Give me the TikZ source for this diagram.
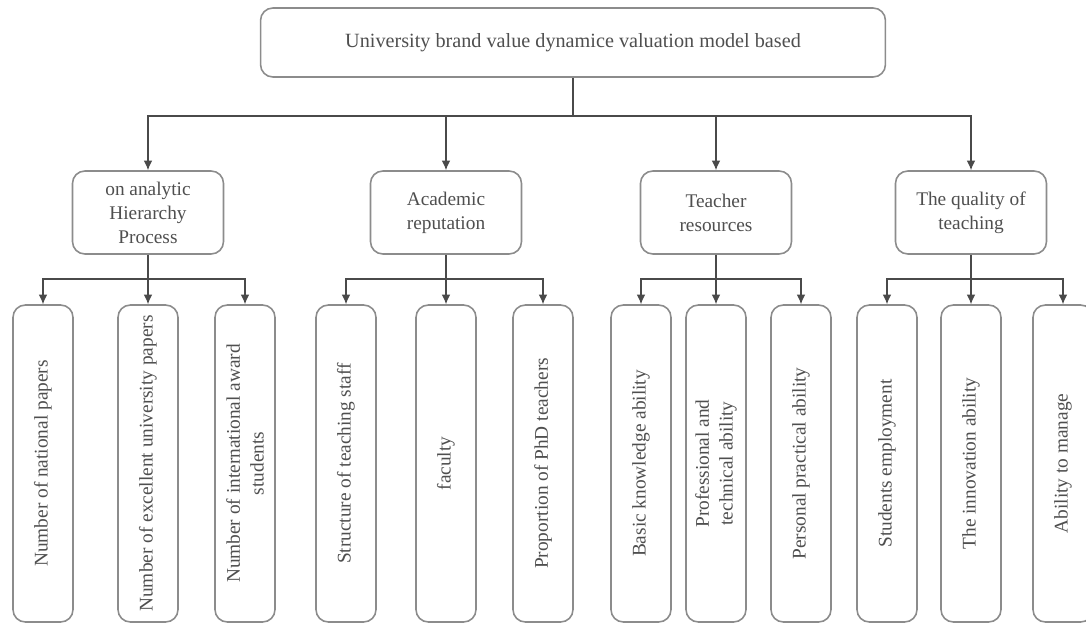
\documentclass[tikz,border=0pt]{standalone}
\usepackage{fontspec}
\setmainfont{Liberation Serif}
\usetikzlibrary{arrows.meta}
\definecolor{linegray}{HTML}{4A4A4A}
\definecolor{boxgray}{HTML}{8C8C8C}
\definecolor{txtgray}{HTML}{4F4F4F}
\def\busy{116}
\def\leafbus{279}

\begin{document}
\begin{tikzpicture}[x=0.02cm,y=-0.02cm]
    \tikzset{%
      box/.style={draw=boxgray, line width=0.9pt, rounded corners=7pt, fill=white,
        align=center, text=txtgray, inner sep=2pt, font=\fontsize{11}{13.6}\selectfont},
      modelbox/.style={box, minimum width=12.5cm, minimum height=1.38cm,
        font=\fontsize{11.5}{13.6}\selectfont},
      catbox/.style={box, minimum width=3.02cm, minimum height=1.66cm},
      leafbox/.style={box, rotate=90, minimum width=6.34cm, minimum height=1.2cm},
      link/.style={draw=linegray, line width=0.75pt},
      arrow/.style={link, -{Latex[length=5.5pt,width=5pt]}}}

    \useasboundingbox (0,0) rectangle (1086,626);

    \node[modelbox] (model) at (573,42.5) {University brand value dynamice valuation model based};
    \coordinate (bus) at (573,\busy);
    \draw[link] (model) -- (bus);

    \foreach \i/\x/\txt in {1/148/{on analytic\\Hierarchy\\Process},
                            2/446/{Academic\\reputation},
                            3/716/{Teacher\\resources},
                            4/971/{The quality of\\teaching}}{
      \node[catbox] (c\i) at (\x,212.5) {\txt};
      \draw[arrow] (bus) -| (c\i);
      \coordinate (b\i) at (\x,\leafbus);
      \draw[link] (c\i) -- (b\i);
    }

    \foreach \i/\j/\x/\txt in {1/1/43/{Number of national papers},
                               1/2/148/{Number of excellent university papers},
                               1/3/245/{Number of international award\\students},
                               2/1/346/{Structure of teaching staff},
                               2/2/446/{faculty},
                               2/3/543/{Proportion of PhD teachers},
                               3/1/641/{Basic knowledge ability},
                               3/2/716/{Professional and\\technical ability},
                               3/3/801/{Personal practical ability},
                               4/1/887/{Students employment},
                               4/2/971/{The innovation ability},
                               4/3/1063/{Ability to manage}}{
      \node[leafbox] (l\i\j) at (\x,463.5) {\txt};
      \draw[arrow] (b\i) -| (l\i\j.east);
    }
  \end{tikzpicture}
\end{document}
